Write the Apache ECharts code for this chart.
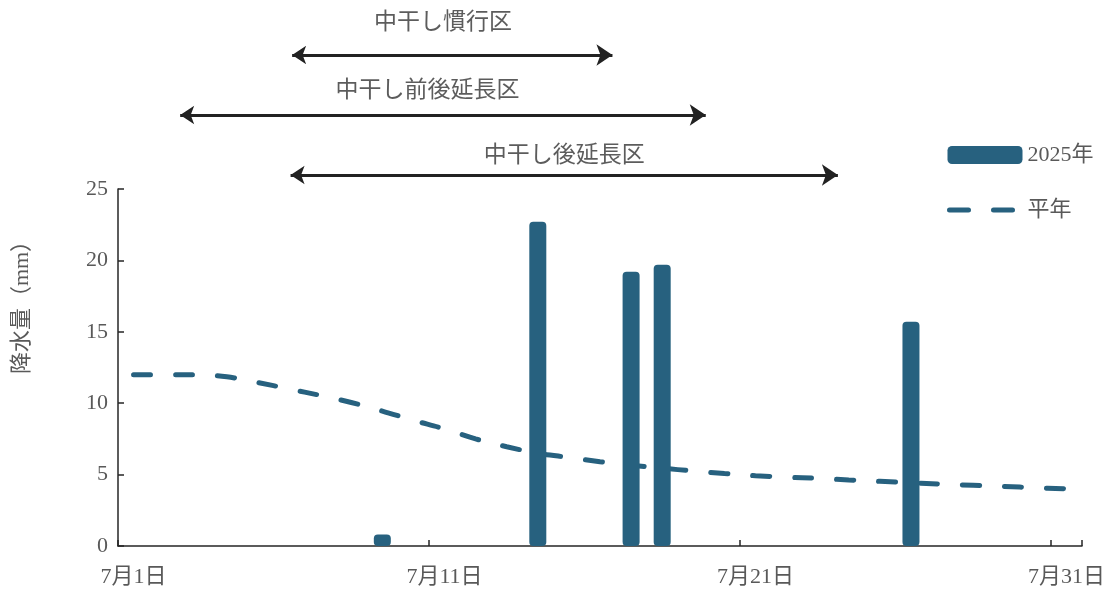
<!DOCTYPE html>
<html>
<head>
<meta charset="utf-8">
<script src="https://cdn.jsdelivr.net/npm/echarts@6/dist/echarts.min.js"></script>
<style>
  html, body { margin: 0; padding: 0; background: #fff; }
  #chart { width: 1108px; height: 593px; }
</style>
</head>
<body>
<div id="chart"></div>
<script>
// Days of July
const days = Array.from({ length: 31 }, (_, i) => `7月${i + 1}日`);

// Daily rainfall in 2025 (mm)
const rain2025 = [0, 0, 0, 0, 0, 0, 0, 0, 0.8, 0,
                  0, 0, 0, 22.7, 0, 0, 19.2, 19.7, 0, 0,
                  0, 0, 0, 0, 0, 15.7, 0, 0, 0, 0,
                  0];

// Normal-year daily rainfall (mm)
const rainNormal = [12.0, 12.0, 12.0, 11.85, 11.45, 11.0, 10.55, 10.05, 9.45, 8.8,
                    8.2, 7.5, 6.95, 6.5, 6.2, 5.9, 5.65, 5.45, 5.25, 5.07,
                    4.92, 4.82, 4.74, 4.62, 4.53, 4.43, 4.33, 4.25, 4.17, 4.08,
                    4.0];

// Treatment periods (in days counted from the start of 7/1)
const periodNames = ['中干し慣行区', '中干し前後延長区', '中干し後延長区'];
const periodStart = [5.6, 2.0, 5.55];
const periodEnd = [15.9, 18.9, 23.15];

const seriesNames = ['2025年', '平年'];
const yAxisTitle = '降水量（mm）';
const yTicks = { min: 0, max: 25, interval: 5 };

// ---- layout / style ----
const C_BAR = '#27617f';
const C_TEXT = '#595959';
const C_AXIS = '#262626';
const FONT = "'Liberation Serif', 'Noto Sans CJK JP', serif";
const JP_FONT = "'Noto Sans CJK JP', sans-serif";
const arrowRows = [55, 115, 175];
const labelRows = [20, 88, 153];
const labelShift = [-0.3, -0.5, 0];

const chart = echarts.init(document.getElementById('chart'), null, { renderer: 'canvas' });

const arrowData = periodNames.map((n, i) => ({
  coords: [[periodStart[i], arrowRows[i]], [periodEnd[i], arrowRows[i]]]
}));
const labelData = periodNames.map((n, i) => ({
  name: n,
  value: [(periodStart[i] + periodEnd[i]) / 2 + labelShift[i], labelRows[i]]
}));

chart.setOption({
  animation: false,
  backgroundColor: '#fff',
  grid: [
    { left: 118, right: 26, top: 189, bottom: 47 },
    { left: 118, right: 26, top: 0, height: 189 }
  ],
  legend: {
    orient: 'vertical',
    left: 940,
    top: 139,
    itemWidth: 75,
    itemHeight: 18,
    itemGap: 33,
    textStyle: { fontSize: 22, color: C_TEXT, fontFamily: FONT },
    data: [
      { name: seriesNames[0], icon: 'roundRect' },
      {
        name: seriesNames[1],
        itemStyle: { color: 'rgba(0,0,0,0)', borderColor: 'rgba(0,0,0,0)', opacity: 0 },
        lineStyle: { width: 5, type: [19, 25], cap: 'round', dashOffset: -2 }
      }
    ]
  },
  xAxis: [
    {
      type: 'category',
      gridIndex: 0,
      data: days,
      boundaryGap: true,
      axisLine: { lineStyle: { color: C_AXIS, width: 1.5 } },
      axisTick: { show: true, inside: true, length: 6, interval: (i) => i % 10 === 0,
                  alignWithLabel: false, lineStyle: { color: C_AXIS, width: 1.5 } },
      axisLabel: { interval: 9, margin: 20, fontSize: 22, color: C_TEXT, fontFamily: FONT },
      splitLine: { show: false }
    },
    { type: 'value', gridIndex: 1, min: 0, max: 31, show: false }
  ],
  yAxis: [
    {
      type: 'value',
      gridIndex: 0,
      min: yTicks.min, max: yTicks.max, interval: yTicks.interval,
      axisLine: { show: true, lineStyle: { color: C_AXIS, width: 1.5 } },
      axisTick: { show: true, inside: true, length: 6, lineStyle: { color: C_AXIS, width: 1.5 } },
      axisLabel: { margin: 10, fontSize: 22, color: C_TEXT, fontFamily: FONT },
      splitLine: { show: false }
    },
    { type: 'value', gridIndex: 1, min: 0, max: 189, inverse: true, show: false }
  ],
  graphic: [
    { type: 'text', x: 22, y: 302, rotation: Math.PI / 2,
      style: { text: yAxisTitle, fill: C_TEXT, font: `22px ${FONT}`, align: 'center', verticalAlign: 'middle' } }
  ],
  series: [
    {
      name: seriesNames[1],
      type: 'line',
      data: rainNormal,
      smooth: 0.35,
      symbol: 'none',
      z: 1,
      lineStyle: { color: C_BAR, width: 5, type: [17, 25], cap: 'round' },
      itemStyle: { color: C_BAR }
    },
    {
      name: seriesNames[0],
      type: 'bar',
      data: rain2025,
      barWidth: 17,
      z: 2,
      itemStyle: { color: C_BAR, borderRadius: 4 }
    },
    {
      type: 'lines',
      coordinateSystem: 'cartesian2d',
      xAxisIndex: 1,
      yAxisIndex: 1,
      symbol: ['arrow', 'arrow'],
      symbolSize: [14, 16],
      lineStyle: { color: '#222', width: 3, opacity: 1 },
      data: arrowData,
      silent: true
    },
    {
      type: 'scatter',
      xAxisIndex: 1,
      yAxisIndex: 1,
      symbolSize: 0,
      data: labelData,
      label: {
        show: true, position: 'inside', formatter: '{b}',
        fontSize: 23, color: '#333', fontFamily: JP_FONT
      },
      silent: true
    }
  ]
});
</script>
</body>
</html>
